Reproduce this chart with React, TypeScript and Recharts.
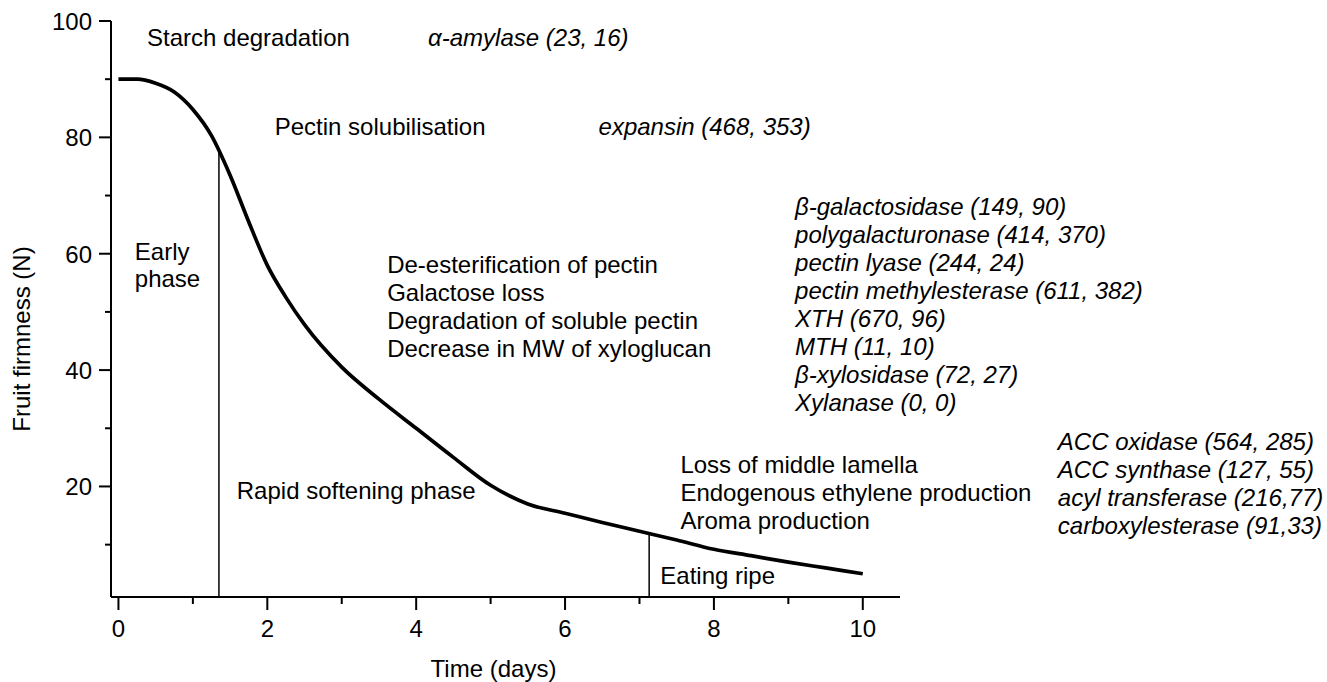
import { LineChart, Line, XAxis, YAxis, ReferenceLine, ReferenceDot } from 'recharts';

// 果实硬度随时间变化
const days = [0, 0.25, 0.5, 0.75, 1.0, 1.25, 1.5, 1.75, 2.0, 2.25, 2.5, 3.0, 3.5, 4.0, 4.5, 5.0, 5.5, 6.0, 6.5, 7.0, 7.5, 8.0, 8.5, 9.0, 9.5, 10];
const firmness = [90, 90, 89.3, 87.8, 84.8, 80.3, 73.5, 65.5, 58, 52.5, 47.8, 40.5, 35, 30, 25, 20.2, 17, 15.4, 13.8, 12.3, 10.8, 9.2, 8.1, 7.0, 6.0, 5.0];

const xTicks = [0, 1, 2, 3, 4, 5, 6, 7, 8, 9, 10];
const yTicks = [10, 20, 30, 40, 50, 60, 70, 80, 90, 100];

// 阶段分界线
const phaseDays = [1.35, 7.13];
const phaseFirmness = [77.6, 11.9];

const starchText = ['Starch degradation'];
const amylaseText = ['α-amylase (23, 16)'];
const pectinText = ['Pectin solubilisation'];
const expansinText = ['expansin (468, 353)'];
const earlyText = ['Early', 'phase'];
const rapidText = ['Rapid softening phase'];
const wallText = ['De-esterification of pectin', 'Galactose loss', 'Degradation of soluble pectin', 'Decrease in MW of xyloglucan'];
const wallEnzymes = [
  'β-galactosidase (149, 90)',
  'polygalacturonase (414, 370)',
  'pectin lyase (244, 24)',
  'pectin methylesterase (611, 382)',
  'XTH (670, 96)',
  'MTH (11, 10)',
  'β-xylosidase (72, 27)',
  'Xylanase (0, 0)',
];
const ripeText = ['Loss of middle lamella', 'Endogenous ethylene production', 'Aroma production'];
const ripeEnzymes = ['ACC oxidase (564, 285)', 'ACC synthase (127, 55)', 'acyl transferase (216,77)', 'carboxylesterase (91,33)'];
const eatingText = ['Eating ripe'];

const data = days.map((d, i) => ({ day: d, firmness: firmness[i] }));

const FONT = '"Liberation Sans", Arial, sans-serif';

const notes = [
  { x: 0.384, y: 97.1, lines: starchText },
  { x: 4.16, y: 97.1, lines: amylaseText, italic: true },
  { x: 2.1, y: 81.8, lines: pectinText },
  { x: 6.45, y: 81.8, lines: expansinText, italic: true },
  { x: 0.22, y: 60.3, lines: earlyText, gap: 27 },
  { x: 1.59, y: 19.2, lines: rapidText },
  { x: 3.61, y: 58.1, lines: wallText },
  { x: 9.09, y: 68.0, lines: wallEnzymes, italic: true },
  { x: 7.55, y: 23.7, lines: ripeText },
  { x: 12.62, y: 27.6, lines: ripeEnzymes, italic: true },
  { x: 7.28, y: 4.6, lines: eatingText },
];

function Note({ viewBox, lines, italic, gap = 28 }: any) {
  const x = viewBox.x + (viewBox.width || 0) / 2;
  const y = viewBox.y + (viewBox.height || 0) / 2;
  return (
    <text fontSize={24} fontFamily={FONT} fontStyle={italic ? 'italic' : 'normal'} fill="#000">
      {lines.map((l: string, i: number) => (
        <tspan key={i} x={x} y={y + 8 + i * gap}>{l}</tspan>
      ))}
    </text>
  );
}

function XTick(p: any) {
  const v = p.payload.value;
  const major = v % 2 === 0;
  return (
    <g>
      <line x1={p.x} x2={p.x} y1={p.y} y2={p.y + (major ? 13 : 7)} stroke="#000" strokeWidth={2} />
      {major && (
        <text x={p.x} y={p.y + 40} textAnchor="middle" fontSize={24} fontFamily={FONT} fill="#000">{v}</text>
      )}
    </g>
  );
}

function YTick(p: any) {
  const v = p.payload.value;
  const major = v % 20 === 0;
  return (
    <g>
      <line x1={p.x - (major ? 12 : 6)} x2={p.x} y1={p.y} y2={p.y} stroke="#000" strokeWidth={2} />
      {major && (
        <text x={p.x - 19} y={p.y + 9} textAnchor="end" fontSize={24} fontFamily={FONT} fill="#000">{v}</text>
      )}
    </g>
  );
}

export default function App() {
  return (
    <div style={{ position: 'absolute', left: 0, top: 0, background: '#fff' }}>
      <LineChart width={1327} height={682} data={data} margin={{ top: 21, right: 427, bottom: 0, left: 0 }}>
        <XAxis
          type="number"
          dataKey="day"
          domain={[-0.1, 10.5]}
          ticks={xTicks}
          interval={0}
          allowDataOverflow
          height={85}
          tickSize={0}
          tickMargin={0}
          tickLine={false}
          axisLine={{ stroke: '#000', strokeWidth: 2 }}
          tick={<XTick />}
          label={{
            content: ({ viewBox }: any) => (
              <text x={viewBox.x + viewBox.width / 2 - 12} y={viewBox.y + 80} textAnchor="middle" fontSize={24} fontFamily={FONT} fill="#000">
                Time (days)
              </text>
            ),
          }}
        />
        <YAxis
          type="number"
          domain={[1, 100]}
          ticks={yTicks}
          interval={0}
          allowDataOverflow
          width={111}
          tickSize={0}
          tickMargin={0}
          tickLine={false}
          axisLine={{ stroke: '#000', strokeWidth: 2 }}
          tick={<YTick />}
          label={{
            content: ({ viewBox }: any) => {
              const cx = 30;
              const cy = viewBox.y + viewBox.height / 2 + 30;
              return (
                <text x={cx} y={cy} transform={`rotate(-90, ${cx}, ${cy})`} textAnchor="middle" fontSize={24} fontFamily={FONT} fill="#000">
                  Fruit firmness (N)
                </text>
              );
            },
          }}
        />
        {phaseDays.map((d, i) => (
          <ReferenceLine
            key={i}
            segment={[{ x: d, y: 1 }, { x: d, y: phaseFirmness[i] }]}
            stroke="#000"
            strokeWidth={1.5}
            ifOverflow="visible"
          />
        ))}
        <Line
          type="monotone"
          dataKey="firmness"
          stroke="#000"
          strokeWidth={3.7}
          dot={false}
          activeDot={false}
          isAnimationActive={false}
        />
        {notes.map((n, i) => (
          <ReferenceDot
            key={i}
            x={n.x}
            y={n.y}
            r={1}
            fill="none"
            stroke="none"
            ifOverflow="visible"
            label={(p: any) => <Note {...p} lines={n.lines} italic={n.italic} gap={n.gap} />}
          />
        ))}
      </LineChart>
    </div>
  );
}
